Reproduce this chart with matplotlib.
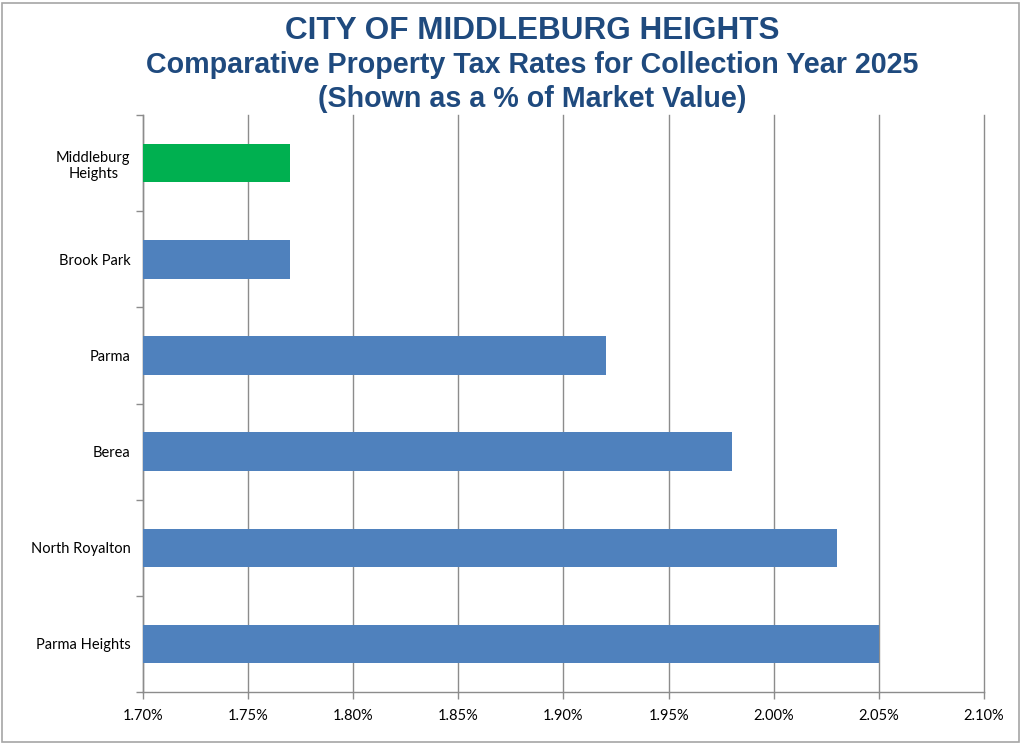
import matplotlib
matplotlib.use("Agg")
import matplotlib.pyplot as plt
from matplotlib.patches import Rectangle
from matplotlib.ticker import FuncFormatter

# -----------------------------
# DATA
# -----------------------------

cities = ["Parma Heights", "North Royalton", "Berea", "Parma",
          "Brook Park", "Middleburg\nHeights"]
rates = [2.05, 2.03, 1.98, 1.92, 1.77, 1.77]
bar_colors = ["#4F81BD", "#4F81BD", "#4F81BD", "#4F81BD", "#4F81BD", "#00B050"]
x_ticks = [1.70, 1.75, 1.80, 1.85, 1.90, 1.95, 2.00, 2.05, 2.10]

TITLE_COLOR = "#1F4A7E"
GRID_COLOR = "#8C8C8C"

# -----------------------------
# PLOT
# -----------------------------

fig = plt.figure(figsize=(10.24, 7.45), dpi=100)
ax = fig.add_axes([0.1396, 0.0711, 0.8213, 0.7745])

pos = list(range(len(cities)))
ax.barh(pos, [r - 1.70 for r in rates], left=1.70, height=0.4,
        color=bar_colors, zorder=3)

ax.set_xlim(1.70, 2.10)
ax.set_ylim(-0.5, len(cities) - 0.5)

ax.set_xticks(x_ticks)
ax.xaxis.set_major_formatter(FuncFormatter(lambda v, p: f"{v:.2f}%"))
ax.grid(axis="x", color=GRID_COLOR, linewidth=1, zorder=0)
for gl in ax.get_xgridlines():
    gl.set_clip_on(False)

ax.set_yticks(pos)
ax.set_yticklabels(cities, multialignment="center")
ax.set_yticks([p - 0.5 for p in pos] + [len(cities) - 0.5], minor=True)
ax.tick_params(axis="y", which="major", length=0, pad=9)
ax.tick_params(axis="y", which="minor", length=5, color=GRID_COLOR, width=1)
ax.tick_params(axis="x", length=5, color=GRID_COLOR, width=1, pad=7)

for lab in ax.get_xticklabels() + ax.get_yticklabels():
    lab.set_fontfamily("Lato")
    lab.set_fontsize(10.5)
    lab.set_color("black")

for side in ["top", "right"]:
    ax.spines[side].set_visible(False)
for side in ["left", "bottom"]:
    ax.spines[side].set_color(GRID_COLOR)
    ax.spines[side].set_linewidth(1)

# title lines
fig.text(0.52, 0.9472, "CITY OF MIDDLEBURG HEIGHTS", ha="center",
         va="baseline", fontsize=22.7, fontweight="bold", color=TITLE_COLOR,
         family="Liberation Sans")
fig.text(0.52, 0.9016, "Comparative Property Tax Rates for Collection Year 2025",
         ha="center", va="baseline", fontsize=20.6, fontweight="bold",
         color=TITLE_COLOR, family="Liberation Sans")
fig.text(0.52, 0.8568, "(Shown as a % of Market Value)", ha="center",
         va="baseline", fontsize=20.6, fontweight="bold", color=TITLE_COLOR,
         family="Liberation Sans")

# chart border
fig.patches.append(Rectangle((0.002, 0.004), 0.993, 0.992,
                             transform=fig.transFigure, fill=False,
                             edgecolor="#A6A6A6", linewidth=1.2))

fig.savefig("out.png", dpi=100)
